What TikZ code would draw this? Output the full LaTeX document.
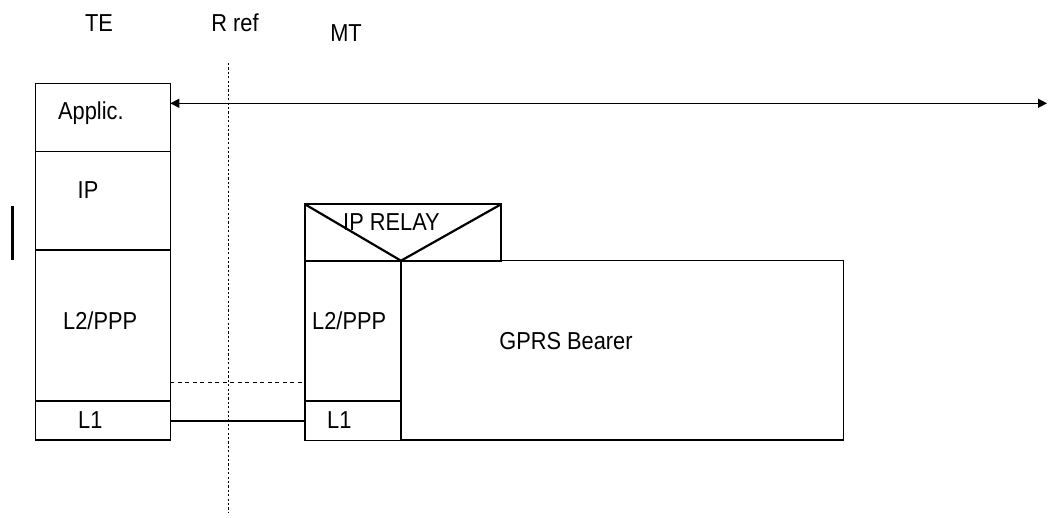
\documentclass[tikz,border=0pt]{standalone}
\usepackage{fontspec}
\setmainfont{Liberation Sans}[FakeStretch=0.89]
\usetikzlibrary{arrows.meta}
\begin{document}
\begin{tikzpicture}[x=1pt,y=-1pt,
  font=\fontsize{24.5}{28}\selectfont,
  box/.style={draw, line width=1.4pt, inner sep=0pt, outer sep=0pt, anchor=north west},
  lbl/.style={inner sep=0pt, anchor=base west},
  thickln/.style={line width=2.2pt},
  dotln/.style={line width=1pt, dash pattern=on 2.2pt off 2.2pt},
  dashln/.style={line width=1pt, dash pattern=on 4pt off 3.5pt},
  tip/.style={-{Triangle[length=9pt,width=9pt]}}]
\useasboundingbox (0,0) rectangle (1048,517);
% header texts
\node[inner sep=0pt, anchor=base] (te) at (99,31) {TE};
\node[inner sep=0pt, anchor=base] (rref) at (235,31) {R ref};
\node[inner sep=0pt, anchor=base] (mt) at (346,41) {MT};
% R reference dotted line
\coordinate (rtop) at (228.5,63);
\coordinate (rbot) at (228.5,512);
\draw[dotln] (rtop) -- (rbot);
% TE stack
\node[box, minimum width=134.6pt, minimum height=68.4pt] (app) at (35.7,83.3) {};
\node[box, minimum width=134.6pt, minimum height=98.3pt] (ip) at (35.7,151.7) {};
\node[box, minimum width=134.6pt, minimum height=151pt] (l2a) at (35.7,250) {};
\node[box, minimum width=134.6pt, minimum height=39pt] (l1a) at (35.7,401) {};
\node[lbl] (tapp) at (58,119) {Applic.};
\node[lbl] (tip) at (77.5,198.5) {IP};
\node[lbl] (tl2a) at (63,329) {L2/PPP};
\node[lbl] (tl1a) at (78,428) {L1};
% small thick bar
\coordinate (bart) at (12.3,206);
\coordinate (barb) at (12.3,260);
\draw[line width=3pt] (bart) -- (barb);
% end-to-end arrow
\coordinate (arrR) at (1047,103.3);
\draw[line width=1.3pt, {Triangle[length=9pt,width=9pt]}-{Triangle[length=9pt,width=9pt]}] (app.east |- arrR) -- (arrR);
% MT stack
\node[box, line width=2pt, minimum width=196pt, minimum height=56.4pt] (relay) at (305,204.3) {};
\node[box, minimum width=96pt, minimum height=140.3pt] (l2b) at (305,260.7) {};
\node[box, minimum width=96pt, minimum height=39.3pt] (l1b) at (305,401) {};
\node[box, minimum width=442.3pt, minimum height=179.3pt] (gprs) at (401,260.7) {};
\draw[line width=2.2pt] (relay.north west) -- (l2b.north east) -- (relay.north east);
\draw[line width=2.2pt] (l2b.north west) -- (gprs.north west);
\draw[line width=2pt] (l2b.north east) -- (l1b.south east);
\node[lbl] (trelay) at (343,230.7) {IP RELAY};
\node[lbl] (tl2b) at (312,329) {L2/PPP};
\node[lbl] (tl1b) at (327,428) {L1};
\node[inner sep=0pt, anchor=base] (tgprs) at (566,349.3) {GPRS Bearer};
% links between stacks
\draw[dashln] (l2a.east |- 0,382.3) -- (l2b.west |- 0,382.3);
\draw[thickln] (l1a.east |- 0,420.7) -- (l1b.west |- 0,420.7);
\end{tikzpicture}
\end{document}
